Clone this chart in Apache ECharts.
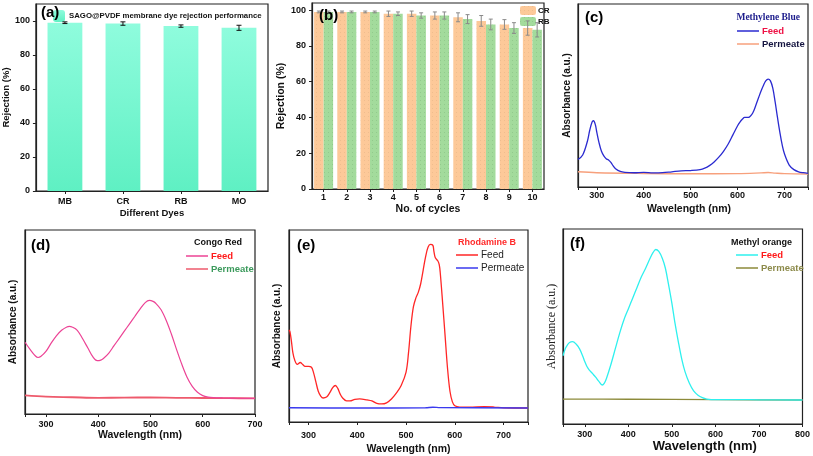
<!DOCTYPE html>
<html>
<head>
<meta charset="utf-8">
<script src="https://cdn.jsdelivr.net/npm/echarts@6/dist/echarts.min.js"></script>
<style>
  html, body { margin: 0; padding: 0; background: #fff; }
  #chart { width: 813px; height: 456px; }
</style>
</head>
<body>
<div id="chart"></div>
<script>
// (a) dye rejection
const dyes = ['MB', 'CR', 'RB', 'MO']
const dyeRejection = [99, 98.5, 97, 96]
const dyeErr = [0.5, 1, 0.7, 1.5]

// (b) cycles
const cycles = ['1', '2', '3', '4', '5', '6', '7', '8', '9', '10']
const crCycle = [99, 99, 99, 98, 98, 97, 96, 94, 92, 90]
const crErr = [0.5, 0.5, 0.5, 1.5, 1.5, 2, 2.5, 3, 2.7, 4]
const rbCycle = [99, 99, 99, 98, 97, 97, 95, 92, 90, 89]
const rbErr = [0.5, 0.5, 0.5, 1, 1.5, 2, 2.5, 3, 3, 4]

// (c) methylene blue
const mbWave = [260, 270, 280, 285, 290, 293, 297, 300, 305, 310, 315, 320, 325, 330, 335, 340, 350, 360, 380, 400, 420, 440, 460, 480, 500, 520, 530, 540, 550, 560, 570, 580, 590, 600, 605, 610, 615, 620, 625, 630, 635, 640, 645, 650, 655, 660, 665, 670, 675, 680, 685, 690, 695, 700, 710, 720, 730, 740, 750]
const mbFeed = [0.15, 0.175, 0.25, 0.31, 0.355, 0.362, 0.34, 0.30, 0.24, 0.195, 0.17, 0.155, 0.148, 0.135, 0.115, 0.10, 0.085, 0.08, 0.078, 0.08, 0.077, 0.078, 0.083, 0.088, 0.09, 0.095, 0.103, 0.117, 0.137, 0.163, 0.195, 0.235, 0.285, 0.335, 0.355, 0.37, 0.38, 0.38, 0.382, 0.395, 0.42, 0.455, 0.49, 0.525, 0.555, 0.58, 0.59, 0.58, 0.54, 0.465, 0.38, 0.30, 0.23, 0.18, 0.12, 0.095, 0.083, 0.078, 0.075]
const mbPermWave = [260, 300, 400, 500, 600, 650, 665, 680, 700, 750]
const mbPerm = [0.083, 0.078, 0.074, 0.072, 0.073, 0.077, 0.079, 0.076, 0.073, 0.071]

// (d) congo red
const crWave = [260, 270, 280, 285, 290, 300, 310, 320, 330, 340, 345, 350, 360, 370, 380, 390, 398, 405, 410, 420, 430, 440, 450, 460, 470, 480, 490, 498, 505, 510, 520, 530, 540, 550, 560, 570, 580, 590, 600, 610, 620, 640, 660, 680, 700]
const crFeed = [0.39, 0.35, 0.315, 0.307, 0.312, 0.34, 0.385, 0.425, 0.455, 0.473, 0.476, 0.473, 0.455, 0.41, 0.36, 0.31, 0.29, 0.293, 0.302, 0.33, 0.37, 0.41, 0.45, 0.49, 0.53, 0.57, 0.605, 0.617, 0.612, 0.602, 0.568, 0.51, 0.435, 0.35, 0.27, 0.20, 0.15, 0.118, 0.10, 0.092, 0.089, 0.087, 0.086, 0.085, 0.085]
const crPermWave = [260, 300, 350, 400, 450, 500, 550, 600, 650, 700]
const crPerm = [0.101, 0.094, 0.091, 0.088, 0.089, 0.09, 0.088, 0.087, 0.086, 0.085]

// (e) rhodamine B
const rhWave = [260, 262, 265, 268, 272, 277, 283, 288, 293, 300, 306, 310, 315, 320, 325, 330, 337, 343, 350, 355, 360, 365, 370, 378, 385, 395, 405, 420, 430, 440, 450, 460, 470, 480, 490, 500, 505, 510, 515, 520, 525, 530, 535, 540, 545, 550, 555, 557, 560, 565, 568, 570, 575, 580, 585, 590, 595, 600, 610, 630, 660, 680, 700, 750]
const rhFeed = [0.48, 0.47, 0.42, 0.36, 0.32, 0.30, 0.31, 0.30, 0.29, 0.29, 0.285, 0.26, 0.21, 0.16, 0.135, 0.125, 0.13, 0.15, 0.18, 0.19, 0.175, 0.145, 0.125, 0.11, 0.11, 0.118, 0.12, 0.115, 0.11, 0.097, 0.094, 0.10, 0.12, 0.15, 0.19, 0.26, 0.36, 0.50, 0.60, 0.645, 0.675, 0.72, 0.79, 0.86, 0.91, 0.925, 0.92, 0.89, 0.855, 0.84, 0.82, 0.78, 0.62, 0.45, 0.28, 0.16, 0.105, 0.085, 0.078, 0.077, 0.08, 0.078, 0.074, 0.073]
const rhPermWave = [260, 400, 540, 555, 570, 750]
const rhPerm = [0.074, 0.073, 0.074, 0.077, 0.075, 0.073]

// (f) methyl orange
const moWave = [250, 255, 260, 265, 272, 280, 288, 295, 300, 305, 310, 318, 325, 332, 340, 345, 350, 360, 370, 380, 390, 400, 410, 420, 430, 440, 450, 457, 463, 470, 478, 485, 492, 500, 507, 515, 523, 530, 540, 550, 560, 570, 580, 600, 650, 700, 800]
const moFeed = [0.35, 0.385, 0.405, 0.418, 0.422, 0.41, 0.385, 0.35, 0.32, 0.295, 0.278, 0.258, 0.24, 0.22, 0.20, 0.21, 0.235, 0.305, 0.385, 0.465, 0.535, 0.59, 0.645, 0.70, 0.755, 0.80, 0.85, 0.88, 0.895, 0.885, 0.85, 0.80, 0.72, 0.62, 0.52, 0.42, 0.33, 0.27, 0.21, 0.17, 0.148, 0.135, 0.128, 0.125, 0.125, 0.124, 0.123]
const moPermWave = [250, 400, 600, 800]
const moPerm = [0.128, 0.127, 0.125, 0.123]

const FONT = 'Arial, "Liberation Sans", sans-serif'
const SERIF = '"Times New Roman", "Liberation Serif", serif'

function zip(xs, ys) {
  return xs.map((x, i) => [x, ys[i]])
}

// 轴样式
const lineAxis = { show: true, lineStyle: { color: '#222', width: 1.2 } }
const tickOut = { show: true, length: 3, lineStyle: { color: '#222' } }

function waveAxis(gridIndex, min, max, nameGap, labelMargin, nameSize, nameShift) {
  return {
    type: 'value', gridIndex, min, max,
    name: 'Wavelength (nm)', nameLocation: 'middle', nameGap,
    nameTextStyle: {
      fontFamily: FONT, fontWeight: 'bold', fontSize: nameSize, color: '#111',
      padding: [0, 0, 0, nameShift || 0]
    },
    axisLine: lineAxis, axisTick: tickOut,
    axisLabel: {
      fontFamily: FONT, fontWeight: 'bold', fontSize: 9, color: '#111', margin: labelMargin,
      formatter: v => (v % 100 === 0 ? String(v) : '')
    },
    splitLine: { show: false }
  }
}

function absAxis(gridIndex, nameGap, serif) {
  return {
    type: 'value', gridIndex, min: 0, max: 1,
    name: 'Absorbance (a.u.)', nameLocation: 'middle', nameGap,
    nameTextStyle: serif
      ? { fontFamily: SERIF, fontSize: 12, color: '#222' }
      : { fontFamily: FONT, fontWeight: 'bold', fontSize: 10, color: '#111' },
    axisLine: lineAxis, axisTick: { show: false }, axisLabel: { show: false },
    splitLine: { show: false }
  }
}

function pctAxis(gridIndex, max, nameGap, nameSize) {
  return {
    type: 'value', gridIndex, min: 0, max, interval: 20,
    name: 'Rejection (%)', nameLocation: 'middle', nameGap,
    nameTextStyle: { fontFamily: FONT, fontWeight: 'bold', fontSize: nameSize, color: '#111' },
    axisLine: lineAxis, axisTick: tickOut,
    axisLabel: {
      fontFamily: FONT, fontWeight: 'bold', fontSize: 9, color: '#111', margin: 6,
      showMaxLabel: false, formatter: v => (v % 20 === 0 ? String(v) : '')
    },
    splitLine: { show: false }
  }
}

function catAxis(gridIndex, data, name, nameGap, nameSize, margin) {
  return {
    type: 'category', gridIndex, data,
    name, nameLocation: 'middle', nameGap,
    nameTextStyle: { fontFamily: FONT, fontWeight: 'bold', fontSize: nameSize, color: '#111' },
    axisLine: lineAxis, axisTick: { show: true, alignWithLabel: true, length: 3, lineStyle: { color: '#222' } },
    axisLabel: { fontFamily: FONT, fontWeight: 'bold', fontSize: 9, color: '#111', margin },
    splitLine: { show: false }
  }
}

function lineSeries(name, idx, xs, ys, color, width) {
  return {
    name, type: 'line', xAxisIndex: idx, yAxisIndex: idx,
    data: zip(xs, ys), smooth: 0.35, symbol: 'none', showSymbol: false,
    lineStyle: { color, width: width || 1.2 }, itemStyle: { color }
  }
}

// 误差棒
function errSeries(idx, values, errs, color, offsetFrac, capHalf) {
  return {
    type: 'custom', xAxisIndex: idx, yAxisIndex: idx, z: 5,
    data: values.map((v, i) => [i, v - errs[i], v + errs[i]]),
    renderItem(params, api) {
      const band = api.size([1, 0])[0]
      const lo = api.coord([api.value(0), api.value(1)])
      const hi = api.coord([api.value(0), api.value(2)])
      const x = lo[0] + band * offsetFrac
      const style = { stroke: color, lineWidth: 1 }
      return {
        type: 'group',
        children: [
          { type: 'line', shape: { x1: x, y1: lo[1], x2: x, y2: hi[1] }, style },
          { type: 'line', shape: { x1: x - capHalf, y1: lo[1], x2: x + capHalf, y2: lo[1] }, style },
          { type: 'line', shape: { x1: x - capHalf, y1: hi[1], x2: x + capHalf, y2: hi[1] }, style }
        ]
      }
    }
  }
}

const grids = [
  { left: 31, top: 4, width: 237, height: 187 },
  { left: 312, top: 3, width: 232, height: 186 },
  { left: 578, top: 4, width: 230, height: 183 },
  { left: 25, top: 230, width: 230, height: 184 },
  { left: 289, top: 230, width: 239, height: 192 },
  { left: 563, top: 229, width: 242, height: 195 }
].map(g => Object.assign(g, { show: true, borderColor: '#222', borderWidth: 1.2, containLabel: false }))

function panelLabel(text, left, top) {
  return { text, left, top, textStyle: { fontFamily: FONT, fontWeight: 'bold', fontSize: 15, color: '#000' }, z: 10 }
}
function tagTitle(text, right, top, style) {
  return { text, right, top, textStyle: Object.assign({ fontFamily: FONT, fontWeight: 'bold', fontSize: 9, color: '#111' }, style) }
}

function lineLegend(left, top, items, textStyle) {
  return {
    left, top, orient: 'vertical', icon: 'rect', itemWidth: 22, itemHeight: 1.5, itemGap: 1,
    selectedMode: false,
    formatter: n => n.slice(2),
    textStyle: Object.assign({ fontFamily: FONT, fontWeight: 'bold', fontSize: 9.5, lineHeight: 12, padding: [0, 0, 0, -2] }, textStyle),
    data: items.map(([name, color]) => ({ name, textStyle: { color } }))
  }
}

const chart = echarts.init(document.getElementById('chart'), null, { renderer: 'canvas' })

const option = {
  animation: false,
  grid: grids,
  title: [
    panelLabel('(a)', 36, 0),
    panelLabel('(b)', 314, 3),
    panelLabel('(c)', 580, 5),
    panelLabel('(d)', 26, 233),
    panelLabel('(e)', 292, 233),
    panelLabel('(f)', 565, 231),
    tagTitle('Methylene Blue', 8, 8, { fontFamily: SERIF, color: '#1c1c8c', fontSize: 9.5 }),
    tagTitle('Congo Red', 566, 233, { fontSize: 9 }),
    tagTitle('Rhodamine B', 292, 233, { color: '#ff2a2a', fontSize: 9 }),
    tagTitle('Methyl orange', 16, 233, { fontSize: 9 })
  ],
  legend: [
    {
      left: 48, top: 5, itemWidth: 12, itemHeight: 12, itemGap: 0, selectedMode: false,
      textStyle: { fontFamily: FONT, fontWeight: 'bold', fontSize: 7.8, color: '#111', padding: [0, 0, 0, -1] },
      data: ['SAGO@PVDF membrane dye rejection performance']
    },
    {
      left: 515, top: 1, orient: 'vertical', itemWidth: 16, itemHeight: 9, itemGap: 2, selectedMode: false,
      textStyle: { fontFamily: FONT, fontWeight: 'bold', fontSize: 8, color: '#111', padding: [0, 0, 0, -3] },
      data: ['CR', 'RB']
    },
    lineLegend(732, 20, [['c_Feed', '#ee1144'], ['c_Permeate', '#151540']]),
    lineLegend(181, 245, [['d_Feed', '#ff1a1a'], ['d_Permeate', '#3c9a5c']]),
    lineLegend(451, 244, [['e_Feed', '#222'], ['e_Permeate', '#222']], { fontWeight: 'normal', fontSize: 10 }),
    lineLegend(731, 244, [['f_Feed', '#ff1a1a'], ['f_Permeate', '#8c8a4a']])
  ],
  xAxis: [
    catAxis(0, dyes, 'Different Dyes', 17, 9.5, 6),
    catAxis(1, cycles, 'No. of cycles', 15, 10.5, 4),
    waveAxis(2, 260, 750, 17, 4, 10.5, -8),
    waveAxis(3, 260, 700, 16, 6, 10.5),
    waveAxis(4, 260, 750, 22, 9, 10.5),
    waveAxis(5, 250, 800, 15, 6, 13, 44)
  ],
  yAxis: [
    pctAxis(0, 110, 20, 9.5),
    pctAxis(1, 104, 23, 10.5),
    absAxis(2, 6),
    absAxis(3, 7),
    absAxis(4, 7),
    absAxis(5, 5, true)
  ],
  series: [
    {
      name: 'SAGO@PVDF membrane dye rejection performance', type: 'bar', xAxisIndex: 0, yAxisIndex: 0,
      data: dyeRejection, barWidth: '60%',
      itemStyle: {
        color: new echarts.graphic.LinearGradient(0, 0, 0, 1, [
          { offset: 0, color: '#8ffcdd' },
          { offset: 1, color: '#5ff0c3' }
        ])
      }
    },
    errSeries(0, dyeRejection, dyeErr, '#111', 0, 2.5),
    {
      name: 'CR', type: 'bar', xAxisIndex: 1, yAxisIndex: 1, data: crCycle,
      barGap: '0%', barCategoryGap: '18%',
      itemStyle: {
        color: '#fdc999',
        decal: { symbol: 'rect', symbolSize: 1, dashArrayX: [1, 3], dashArrayY: [1, 3], color: 'rgba(160,120,80,0.15)' }
      }
    },
    {
      name: 'RB', type: 'bar', xAxisIndex: 1, yAxisIndex: 1, data: rbCycle,
      barGap: '0%', barCategoryGap: '18%',
      itemStyle: {
        color: '#a3db9c',
        decal: { symbol: 'rect', symbolSize: 1, dashArrayX: [1, 3], dashArrayY: [1, 3], color: 'rgba(60,120,60,0.16)' }
      }
    },
    errSeries(1, crCycle, crErr, '#8a8a8a', -0.205, 2),
    errSeries(1, rbCycle, rbErr, '#8a8a8a', 0.205, 2),
    lineSeries('c_Permeate', 2, mbPermWave, mbPerm, '#f7a07c', 1.4),
    lineSeries('c_Feed', 2, mbWave, mbFeed, '#2a2ad0', 1.3),
    lineSeries('d_Permeate', 3, crPermWave, crPerm, '#ee5a6c', 1.8),
    lineSeries('d_Feed', 3, crWave, crFeed, '#ec4395', 1.2),
    lineSeries('e_Feed', 4, rhWave, rhFeed, '#ff2626', 1.3),
    lineSeries('e_Permeate', 4, rhPermWave, rhPerm, '#3a3aee', 1.4),
    lineSeries('f_Permeate', 5, moPermWave, moPerm, '#8c8a3a', 1.3),
    lineSeries('f_Feed', 5, moWave, moFeed, '#2ef0ee', 1.3)
  ]
}

chart.setOption(option)
</script>
</body>
</html>
